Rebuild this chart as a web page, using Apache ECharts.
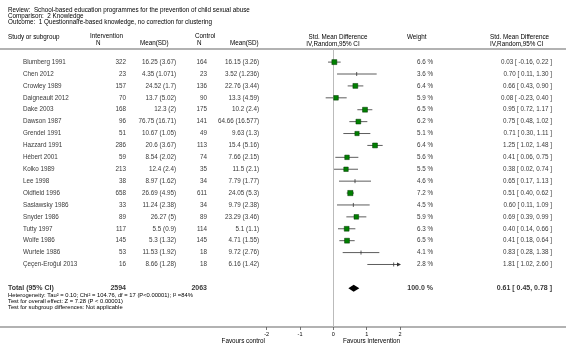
<!DOCTYPE html>
<html>
<head>
<meta charset="utf-8">
<script src="https://cdn.jsdelivr.net/npm/echarts@6/dist/echarts.min.js"></script>
<style>
  html, body { margin: 0; padding: 0; background: #fff; }
  #main { width: 566px; height: 349px; }
</style>
</head>
<body>
<div id="main"></div>
<script>
// study rows
const studies = ['Blumberg 1991', 'Chen 2012', 'Crowley 1989', 'Daigneault 2012', 'Dake 2003', 'Dawson 1987',
  'Grendel 1991', 'Hazzard 1991', 'Hébert 2001', 'Kolko 1989', 'Lee 1998', 'Oldfield 1996', 'Saslawsky 1986',
  'Snyder 1986', 'Tutty 1997', 'Wolfe 1986', 'Wurtele 1986', 'Çeçen-Eroğul 2013'];
const intN = [322, 23, 157, 70, 168, 96, 51, 286, 59, 213, 38, 658, 33, 89, 117, 145, 53, 16];
const intMeanSd = ['16.25 (3.67)', '4.35 (1.071)', '24.52 (1.7)', '13.7 (5.02)', '12.3 (2)', '76.75 (16.71)',
  '10.67 (1.05)', '20.6 (3.67)', '8.54 (2.02)', '12.4 (2.4)', '8.97 (1.62)', '26.69 (4.95)', '11.24 (2.38)',
  '26.27 (5)', '5.5 (0.9)', '5.3 (1.32)', '11.53 (1.92)', '8.66 (1.28)'];
const ctrlN = [164, 23, 136, 90, 175, 141, 49, 113, 74, 35, 34, 611, 34, 89, 114, 145, 18, 18];
const ctrlMeanSd = ['16.15 (3.26)', '3.52 (1.236)', '22.76 (3.44)', '13.3 (4.59)', '10.2 (2.4)', '64.66 (16.577)',
  '9.63 (1.3)', '15.4 (5.16)', '7.66 (2.15)', '11.5 (2.1)', '7.79 (1.77)', '24.05 (5.3)', '9.79 (2.38)',
  '23.29 (3.46)', '5.1 (1.1)', '4.71 (1.55)', '9.72 (2.76)', '6.16 (1.42)'];
const weights = [6.6, 3.6, 6.4, 5.9, 6.5, 6.2, 5.1, 6.4, 5.6, 5.5, 4.6, 7.2, 4.5, 5.9, 6.3, 6.5, 4.1, 2.8];
const smd = [0.03, 0.70, 0.66, 0.08, 0.95, 0.75, 0.71, 1.25, 0.41, 0.38, 0.65, 0.51, 0.60, 0.69, 0.40, 0.41, 0.83, 1.81];
const ciLow = [-0.16, 0.11, 0.43, -0.23, 0.72, 0.48, 0.30, 1.02, 0.06, 0.02, 0.17, 0.40, 0.11, 0.39, 0.14, 0.18, 0.28, 1.02];
const ciHigh = [0.22, 1.30, 0.90, 0.40, 1.17, 1.02, 1.11, 1.48, 0.75, 0.74, 1.13, 0.62, 1.09, 0.99, 0.66, 0.64, 1.38, 2.60];

// pooled result
const totalIntN = 2594;
const totalCtrlN = 2063;
const totalSmd = 0.61;
const totalLow = 0.45;
const totalHigh = 0.78;
const totalRow = 19;

const xTicks = [-2, -1, 0, 1, 2];

const FONT = '"Liberation Sans", Arial, sans-serif';
const FS = 6.3;
const xMin = xTicks[0], xMax = xTicks[xTicks.length - 1];
const yMin = -1.1, yMax = 22.25;

const fmt = v => v.toFixed(2);
const ciText = (e, l, h) => `${fmt(e)} [ ${fmt(l)}, ${fmt(h)} ]`;

// one text column drawn as invisible scatter points with labels
const textCol = (x, texts, align) => ({
  type: 'scatter',
  xAxisIndex: 0, yAxisIndex: 0,
  symbolSize: 0,
  silent: true,
  data: texts.map((t, i) => ({ value: [x, i], label: { formatter: String(t) } })),
  label: {
    show: true, position: 'inside', align: align, verticalAlign: 'middle',
    fontSize: FS, fontFamily: FONT, color: '#000'
  }
});

const totalText = (x, t, align) => ({
  type: 'scatter', xAxisIndex: 0, yAxisIndex: 0, symbolSize: 0, silent: true,
  data: [{ value: [x, totalRow], label: { formatter: t } }],
  label: { show: true, position: 'inside', align: align, verticalAlign: 'middle',
    fontSize: 7, fontWeight: 'bold', fontFamily: FONT, color: '#000' }
});

const txt = (x, y, t, opts) => ({
  type: 'text', x: x, y: y, silent: true,
  style: Object.assign({ text: t, fontSize: FS, fontFamily: FONT, fill: '#000',
    align: 'left', verticalAlign: 'middle' }, opts || {})
});

const chart = echarts.init(document.getElementById('main'));

const option = {
  animation: false,
  backgroundColor: '#fff',
  grid: [
    { left: 0, right: 0, top: 49, bottom: 22 },
    { left: 266.7, width: 133.3, top: 49, bottom: 22 }
  ],
  xAxis: [
    { gridIndex: 0, type: 'value', min: 0, max: 566, position: 'bottom',
      axisLine: { show: true, onZero: false, lineStyle: { color: '#999', width: 1.5 } },
      axisTick: { show: false }, axisLabel: { show: false }, splitLine: { show: false } },
    { gridIndex: 0, type: 'value', min: 0, max: 566, position: 'top',
      axisLine: { show: true, onZero: false, lineStyle: { color: '#999', width: 1.5 } },
      axisTick: { show: false }, axisLabel: { show: false }, splitLine: { show: false } },
    { gridIndex: 1, type: 'value', min: xMin, max: xMax, interval: 1,
      axisLine: { show: false, onZero: false },
      axisTick: { show: true, length: 3, lineStyle: { color: '#555', width: 0.8 } },
      axisLabel: { fontSize: 5.5, fontFamily: FONT, color: '#000', margin: 4 },
      splitLine: { show: false } }
  ],
  yAxis: [
    { gridIndex: 0, type: 'value', min: yMin, max: yMax, inverse: true, show: false },
    { gridIndex: 1, type: 'value', min: yMin, max: yMax, inverse: true, show: false }
  ],
  series: [
    textCol(23, studies, 'left'),
    textCol(126, intN, 'right'),
    textCol(176, intMeanSd, 'right'),
    textCol(207, ctrlN, 'right'),
    textCol(259, ctrlMeanSd, 'right'),
    textCol(433, weights.map(w => w.toFixed(1) + ' %'), 'right'),
    textCol(552, smd.map((e, i) => ciText(e, ciLow[i], ciHigh[i])), 'right'),
    totalText(8, 'Total (95% CI)', 'left'),
    totalText(126, String(totalIntN), 'right'),
    totalText(207, String(totalCtrlN), 'right'),
    totalText(433, '100.0 %', 'right'),
    totalText(552, ciText(totalSmd, totalLow, totalHigh), 'right'),
    // confidence intervals
    {
      type: 'custom',
      xAxisIndex: 2, yAxisIndex: 1,
      silent: true,
      clip: false,
      data: studies.map((s, i) => [i, ciLow[i], ciHigh[i], smd[i], weights[i]]),
      encode: { x: [1, 2], y: 0 },
      markLine: {
        silent: true, symbol: 'none', label: { show: false },
        lineStyle: { color: '#bbb', width: 1, type: 'solid' },
        data: [{ xAxis: 0 }]
      },
      renderItem: (params, api) => {
        const row = api.value(0);
        const lo = api.value(1), hi = api.value(2), est = api.value(3), w = api.value(4);
        const a = api.coord([Math.max(lo, xMin), row]);
        const b = api.coord([Math.min(hi, xMax), row]);
        const c = api.coord([est, row]);
        const stroke = { stroke: '#333', lineWidth: 0.8 };
        const kids = [{ type: 'line', shape: { x1: a[0], y1: a[1], x2: b[0], y2: b[1] }, style: stroke }];
        if (w < 5) {
          kids.push({ type: 'line', shape: { x1: c[0], y1: c[1] - 2, x2: c[0], y2: c[1] + 2 }, style: stroke });
        }
        if (hi > xMax) {
          kids.push({ type: 'polygon', shape: { points: [[b[0] + 1, b[1]], [b[0] - 3, b[1] - 2], [b[0] - 3, b[1] + 2]] },
            style: { fill: '#333' } });
        }
        return { type: 'group', children: kids };
      }
    },
    // study squares
    {
      type: 'scatter',
      xAxisIndex: 2, yAxisIndex: 1,
      silent: true,
      symbol: 'rect',
      data: smd.map((e, i) => [e, i, weights[i]]).filter(d => d[2] >= 5),
      symbolSize: v => 2 + v[2] * 0.45,
      itemStyle: { color: '#008000', borderColor: '#003300', borderWidth: 0.5, opacity: 1 },
      z: 5
    },
    // pooled diamond
    {
      type: 'custom',
      xAxisIndex: 2, yAxisIndex: 1,
      silent: true,
      data: [[totalRow, totalLow, totalHigh, totalSmd]],
      encode: { x: [1, 2], y: 0 },
      renderItem: (params, api) => {
        const row = api.value(0);
        const l = api.coord([api.value(1), row]);
        const h = api.coord([api.value(2), row]);
        const e = api.coord([api.value(3), row]);
        return { type: 'polygon', shape: { points: [[l[0], l[1]], [e[0], e[1] - 3.5], [h[0], h[1]], [e[0], e[1] + 3.5]] },
          style: { fill: '#000' } };
      },
      z: 5
    }
  ],
  graphic: [
    txt(8, 10, 'Review:  School-based education programmes for the prevention of child sexual abuse'),
    txt(8, 16, 'Comparison:  2 Knowledge'),
    txt(8, 22, 'Outcome:  1 Questionnaire-based knowledge, no correction for clustering'),
    txt(8, 37, 'Study or subgroup'),
    txt(90, 36, 'Intervention'),
    txt(96, 43, 'N'),
    txt(140, 43, 'Mean(SD)'),
    txt(195, 36, 'Control'),
    txt(197, 43, 'N'),
    txt(230, 43, 'Mean(SD)'),
    txt(338, 37, 'Std. Mean Difference', { align: 'center' }),
    txt(333, 44, 'IV,Random,95% CI', { align: 'center' }),
    txt(407, 37, 'Weight'),
    txt(490, 37, 'Std. Mean Difference'),
    txt(490, 44, 'IV,Random,95% CI'),
    txt(8, 295, 'Heterogeneity: Tau² = 0.10; Chi² = 104.76, df = 17 (P<0.00001); I² =84%', { fontSize: 5.8 }),
    txt(8, 301, 'Test for overall effect: Z = 7.28 (P < 0.00001)', { fontSize: 5.8 }),
    txt(8, 307, 'Test for subgroup differences: Not applicable', { fontSize: 5.8 }),
    txt(265, 341, 'Favours control', { align: 'right' }),
    txt(343, 341, 'Favours intervention')
  ]
};

chart.setOption(option);
</script>
</body>
</html>
